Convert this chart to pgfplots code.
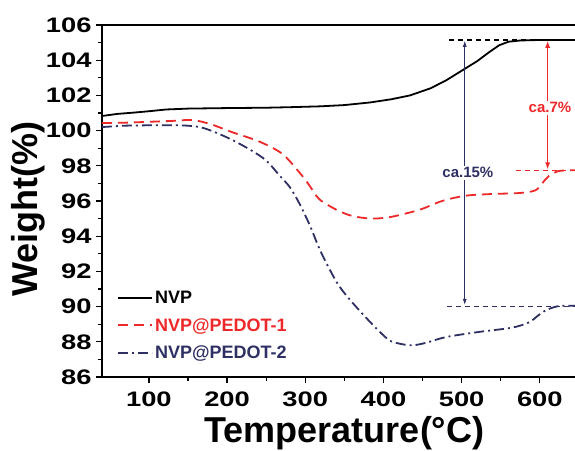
\documentclass[border=0pt]{standalone}
\usepackage{fontspec}
\setmainfont{Liberation Sans}
\newfontfamily\tickfont{Liberation Sans}[FakeStretch=1.3]
\usepackage{pgfplots}
\pgfplotsset{compat=1.18}
\usetikzlibrary{arrows.meta}
\definecolor{nvpred}{RGB}{238,40,40}
\definecolor{nvpnavy}{RGB}{46,48,100}

\begin{document}
\begin{tikzpicture}
\begin{axis}[
  scale only axis,
  width=473pt, height=352pt,
  xmin=40, xmax=645, ymin=86, ymax=106,
  axis y line*=left,
  xtick={100,200,...,600}, ytick={86,88,...,106},
  minor x tick num=1, minor y tick num=1,
  xtick pos=bottom,
  tick align=outside,
  major tick length=6pt, minor tick length=3.5pt,
  every tick/.style={black, line width=1.3pt},
  axis line style={line width=1.8pt},
  /pgf/number format/assume math mode=true,
  ticklabel style={font=\fontsize{21}{21}\selectfont\bfseries\tickfont},
  yticklabel style={xshift=-1pt},
  xticklabel style={yshift=-5pt},
  xlabel={Temperature(°C)},
  ylabel={Weight(\%)},
  label style={font=\fontsize{36}{36}\selectfont\bfseries},
  xlabel style={yshift=-3pt, xshift=6pt},
  ylabel style={yshift=-6pt, xshift=-8pt},
  legend style={at={(axis description cs:0.025,0.255)}, anchor=north west,
    draw=none, fill=none, font=\fontsize{18}{18}\selectfont\bfseries,
    row sep=9pt},
  legend cell align=left,
  legend image code/.code={\draw[#1] plot coordinates {(0pt,0pt) (34pt,0pt)};},
  legend image post style={line width=2pt},
]
\addplot[black, line width=1.8pt] coordinates {
 (40,100.83) (60,100.95) (80,101.02) (100,101.1) (122,101.2) (150,101.25)
 (200,101.28) (250,101.3) (280,101.33) (320,101.38) (350,101.45) (383,101.6)
 (410,101.78) (434,102.0) (460,102.4) (480,102.85) (500,103.4) (520,103.95)
 (535,104.45) (548,104.85) (560,105.05) (575,105.12) (600,105.15) (645,105.15)
};
\addlegendentry{NVP}
\addplot[nvpred, line width=1.8pt, dash pattern=on 10pt off 6pt, smooth] coordinates {
 (40,100.43) (70,100.45) (100,100.5) (130,100.55) (156,100.6) (180,100.35)
 (207,99.9) (240,99.4) (270,98.7) (292,97.65) (305,96.9) (318,96.1)
 (340,95.5) (360,95.15) (385,95.0) (410,95.1) (446,95.5) (475,96.0)
 (505,96.3) (540,96.4) (573,96.45) (594,96.6) (603,97.0) (611,97.4)
 (624,97.7) (645,97.75)
};
\addlegendentry{\textcolor{nvpred}{NVP@PEDOT-1}}
\addplot[nvpnavy, line width=1.8pt, dash pattern=on 10pt off 4pt on 2pt off 4pt, smooth] coordinates {
 (40,100.2) (70,100.28) (100,100.3) (140,100.3) (165,100.2) (185,99.9)
 (207,99.46) (230,98.9) (250,98.3) (268,97.4) (280,96.8) (292,95.9)
 (306,94.6) (320,93.1) (340,91.4) (355,90.5) (373,89.6) (390,88.8)
 (407,88.1) (420,87.9) (437,87.8) (455,87.95) (480,88.27) (522,88.56)
 (564,88.8) (586,89.1) (598,89.5) (608,89.8) (624,90.03) (645,90.05)
};
\addlegendentry{\textcolor{nvpnavy}{NVP@PEDOT-2}}
% annotations
\draw[black, line width=1.2pt, dash pattern=on 5pt off 4pt] (axis cs:484,105.15) -- (axis cs:645,105.15);
\draw[nvpred, line width=0.9pt, dash pattern=on 5pt off 4pt] (axis cs:569,97.75) -- (axis cs:645,97.75);
\draw[nvpnavy, line width=0.9pt, dash pattern=on 5pt off 4pt] (axis cs:481,90.03) -- (axis cs:645,90.03);
\draw[nvpnavy, line width=0.7pt, -{Latex[length=6pt,width=4pt]}] (axis cs:504,97.6) -- (axis cs:504,105.1);
\draw[nvpnavy, line width=0.7pt, -{Latex[length=6pt,width=4pt]}] (axis cs:504,97.6) -- (axis cs:504,90.1);
\node[fill=white, inner sep=1.5pt, text=nvpnavy, font=\fontsize{15}{15}\selectfont\bfseries] at (axis cs:508,97.6) {ca.15\%};
\draw[nvpred, line width=1pt, -{Latex[length=7pt,width=5pt]}] (axis cs:610,101.3) -- (axis cs:610,105.1);
\draw[nvpred, line width=1pt, -{Latex[length=7pt,width=5pt]}] (axis cs:610,101.3) -- (axis cs:610,97.8);
\node[fill=white, inner sep=1.5pt, text=nvpred, font=\fontsize{15}{15}\selectfont\bfseries] at (axis cs:613,101.3) {ca.7\%};
\end{axis}
\pgfresetboundingbox
\path (-102pt,-73pt) rectangle (473pt,377pt);
\end{tikzpicture}
\end{document}
